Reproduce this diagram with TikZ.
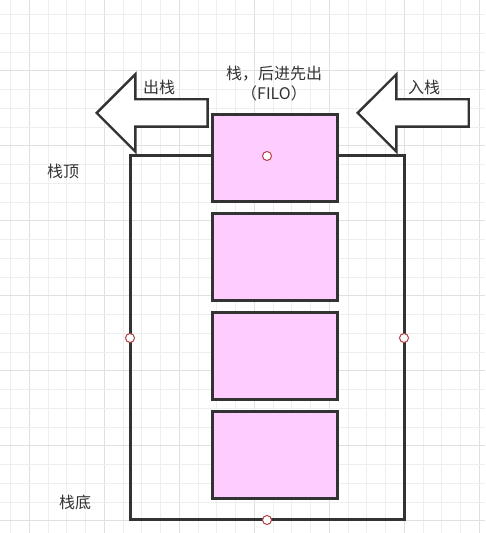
\documentclass[tikz,border=0pt]{standalone}
\usepackage{fontspec}
\newfontfamily\cjk{Noto Sans CJK SC}
\usepackage{tikz}
\usetikzlibrary{positioning, shapes.arrows}
\definecolor{MyDark}{RGB}{51,51,51}
\definecolor{MyPink}{RGB}{255,204,255}
\definecolor{MyRed}{RGB}{176,64,64}
\definecolor{GridMinor}{RGB}{238,238,238}
\definecolor{GridMajor}{RGB}{224,224,224}
\tikzstyle{stackbox} = [rectangle, draw=MyDark, line width=3pt, minimum width=274pt, minimum height=364pt, outer sep=0pt]
\tikzstyle{item} = [rectangle, draw=MyDark, fill=MyPink, line width=3pt, minimum width=125pt, minimum height=87pt, outer sep=0pt]
\tikzstyle{port} = [circle, draw=MyRed, fill=white, line width=1pt, minimum size=9pt, inner sep=0pt]
\tikzstyle{bigarrow} = [single arrow, draw=MyDark, fill=white, line width=2.4pt, shape border rotate=180, minimum height=111pt, inner sep=12.5pt, single arrow head extend=25pt, anchor=tip]
\tikzstyle{lbl} = [font=\cjk\fontsize{16}{20}\selectfont, text=MyDark, inner sep=0pt, align=center]

\begin{document}
\begin{tikzpicture}[x=1pt, y=1pt, node distance=12pt]
	\useasboundingbox (0,0) rectangle (485,533);
	% grid
	\foreach \i in {0,...,25} {
		\pgfmathtruncatemacro{\m}{mod(\i+3,4)}
		\ifnum\m=0 \def\gc{GridMajor}\else \def\gc{GridMinor}\fi
		\draw[\gc, line width=1pt] ({10.55+18.75*\i},0) -- ++(0,533);
	}
	\foreach \j in {0,...,27} {
		\pgfmathtruncatemacro{\m}{mod(\j+1,4)}
		\ifnum\m=0 \def\gc{GridMajor}\else \def\gc{GridMinor}\fi
		\draw[\gc, line width=1pt] (0,{518.25-18.75*\j}) -- ++(485,0);
	}

	% stack
	\node (stack) [stackbox] at (267,195) {};
	\node (top) [item] at (274.5,374.5) {};
	\node (second) [below = of top, item] {};
	\node (third) [below = of second, item] {};
	\node (bottom) [below = of third, item] {};

	\node (portN) [port] at (stack.north) {};
	\node (portW) [port] at (stack.west) {};
	\node (portE) [port] at (stack.east) {};
	\node (portS) [port] at (stack.south) {};

	% arrows
	\node (pop) [bigarrow] at (95,420) {};
	\node (push) [bigarrow] at (356,420) {};

	\node (poplbl) [lbl] at (159,446) {出栈};
	\node (pushlbl) [lbl] at (424,446) {入栈};
	\node (title) [lbl] at (274,449) {栈，后进先出\\（FILO）};
	\node (toplbl) [lbl] at (63,362) {栈顶};
	\node (bottomlbl) [lbl] at (75,31) {栈底};
\end{tikzpicture}
\end{document}
